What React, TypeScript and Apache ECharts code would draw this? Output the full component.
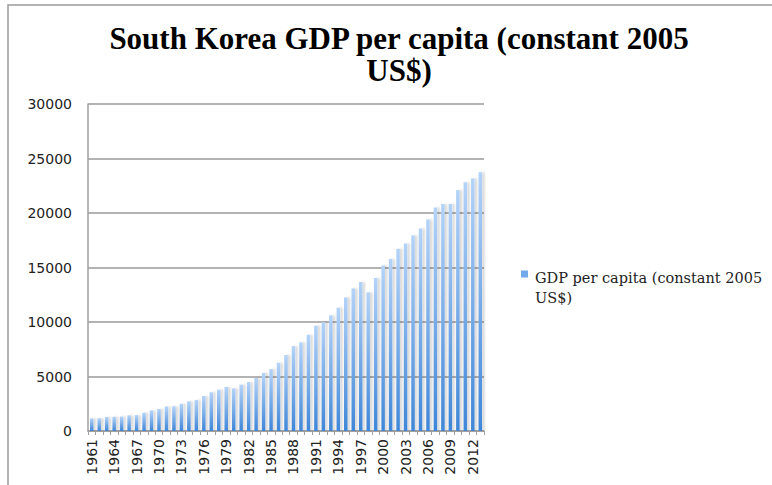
import React, { useEffect, useRef } from "react";
import * as echarts from "echarts";

const years: string[] = [
  "1961","1962","1963","1964","1965","1966","1967","1968","1969","1970",
  "1971","1972","1973","1974","1975","1976","1977","1978","1979","1980",
  "1981","1982","1983","1984","1985","1986","1987","1988","1989","1990",
  "1991","1992","1993","1994","1995","1996","1997","1998","1999","2000",
  "2001","2002","2003","2004","2005","2006","2007","2008","2009","2010",
  "2011","2012","2013",
];

const gdpPerCapita: number[] = [
  1160, 1170, 1290, 1310, 1330, 1440, 1460, 1680, 1890, 2020,
  2250, 2270, 2500, 2720, 2840, 3210, 3550, 3790, 4040, 3910,
  4250, 4490, 4860, 5320, 5680, 6260, 6970, 7790, 8130, 8830,
  9660, 9970, 10610, 11310, 12260, 13080, 13660, 12720, 14030, 15190,
  15770, 16720, 17210, 17940, 18580, 19410, 20510, 20820, 20820, 22100,
  22810, 23170, 23750,
];

const seriesName = "GDP per capita (constant 2005 US$)";
const titleText = "South Korea GDP per capita (constant 2005\nUS$)";
const legendLabel = "GDP per capita (constant 2005\nUS$)";

const yMin = 0;
const yMax = 30000;
const yStep = 5000;

export default function App() {
  const ref = useRef<HTMLDivElement>(null);

  useEffect(() => {
    if (!ref.current) return;
    const chart = echarts.init(ref.current, null, { renderer: "svg" });
    const barGradient = new echarts.graphic.LinearGradient(0, 0, 0, 1, [
      { offset: 0, color: "#b4d3f8" },
      { offset: 1, color: "#3f86d8" },
    ]);
    chart.setOption({
      animation: false,
      backgroundColor: "#ffffff",
      title: {
        text: titleText,
        left: 394,
        textAlign: "center",
        top: 17,
        textStyle: {
          fontFamily: "Liberation Serif",
          fontWeight: "bold",
          fontSize: 31,
          lineHeight: 32,
          color: "#000000",
        },
      },
      legend: {
        left: 516,
        top: 263,
        orient: "vertical",
        icon: "path://M0,0H7V7H0Z M0,35H0.01V35.01H0Z",
        itemWidth: 7,
        itemHeight: 35,
        itemGap: 0,
        itemStyle: { color: "#72a9ea" },
        formatter: () => legendLabel,
        textStyle: {
          fontFamily: "DejaVu Serif",
          fontSize: 14.5,
          lineHeight: 20,
          color: "#222222",
          padding: [0, 0, 0, 2],
        },
        data: [seriesName],
      },
      graphic: [
        {
          type: "rect",
          shape: { x: 8, y: 5, width: 900, height: 700 },
          style: { fill: "none", stroke: "#9b9b9b", lineWidth: 1.5 },
          silent: true,
          z: 100,
        },
      ],
      grid: {
        left: 88,
        right: 288,
        top: 104,
        bottom: 54,
        containLabel: false,
      },
      xAxis: {
        type: "category",
        data: years,
        boundaryGap: true,
        axisLine: { show: true, lineStyle: { color: "#a0a0a0", width: 1.5 } },
        axisTick: {
          show: true,
          interval: 0,
          length: 4,
          lineStyle: { color: "#a0a0a0", width: 1 },
        },
        axisLabel: {
          interval: 2,
          rotate: 90,
          margin: 8,
          fontFamily: "DejaVu Sans",
          fontSize: 14,
          color: "#222222",
        },
        splitLine: { show: false },
      },
      yAxis: {
        type: "value",
        min: yMin,
        max: yMax,
        interval: yStep,
        axisLine: { show: true, lineStyle: { color: "#a0a0a0", width: 1.5 } },
        axisTick: { show: false },
        axisLabel: {
          margin: 16,
          fontFamily: "DejaVu Sans",
          fontSize: 14,
          color: "#222222",
          formatter: (v: number) => String(v),
        },
        splitLine: { show: true, lineStyle: { color: "#9a9a9a", width: 1.5 } },
      },
      series: [
        {
          name: seriesName,
          type: "bar",
          data: gdpPerCapita,
          barWidth: 3.5,
          itemStyle: {
            color: barGradient,
            shadowColor: "rgba(0,0,0,0.16)",
            shadowBlur: 2,
            shadowOffsetX: 2.5,
            shadowOffsetY: 0,
          },
        },
      ],
    });
    return () => chart.dispose();
  }, []);

  return (
    <div
      ref={ref}
      style={{ position: "fixed", left: 0, top: 0, width: 772, height: 485 }}
    />
  );
}
